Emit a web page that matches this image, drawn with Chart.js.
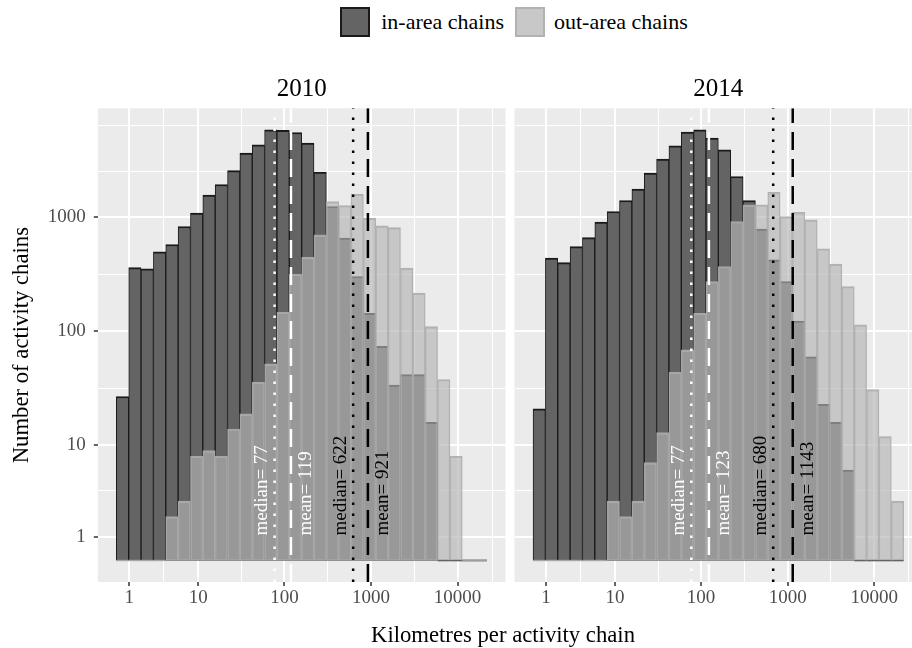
<!DOCTYPE html>
<html lang="en">
<head>
<meta charset="utf-8">
<title>Kilometres per activity chain</title>
<script src="https://cdn.jsdelivr.net/npm/chart.js@4.4.1/dist/chart.umd.min.js"></script>
<style>
  html, body { margin: 0; padding: 0; background: #ffffff; }
  body { width: 912px; height: 648px; overflow: hidden; position: relative;
         font-family: "Liberation Serif", "DejaVu Serif", serif; color: #000000; }
  canvas { position: absolute; top: 0; }
  #panel2010 { left: 0; }
  #panel2014 { left: 510px; }
  #legend { position: absolute; top: 7px; left: 0; width: 1028px; display: flex;
            justify-content: center; align-items: center; font-size: 22px; line-height: 30px; }
  .key { width: 26px; height: 26px; border: 2px solid; }
  .key.in { background: #646464; border-color: #1a1a1a; }
  .key.out { background: #c8c8c8; border-color: #b2b2b2; }
  .lab1 { margin: 0 11px 0 11px; }
  .lab2 { margin: 0 0 0 9px; }
  #xtitle { position: absolute; left: 0; width: 1006px; top: 621px; text-align: center;
            font-size: 22.7px; line-height: 28px; }
</style>
</head>
<body>
<div id="legend">
  <div class="key in"></div><span class="lab1">in-area chains</span>
  <div class="key out"></div><span class="lab2">out-area chains</span>
</div>
<canvas id="panel2010" width="510" height="648"></canvas>
<canvas id="panel2014" width="420" height="648"></canvas>
<div id="xtitle">Kilometres per activity chain</div>
<script>
// Histogram bins (mid-points, km) shared by both survey years
const binMidKm = [0.608, 1.341, 2.219, 3.340, 4.823, 6.833, 9.586, 13.38, 18.64, 25.93,
                  36.03, 50.07, 69.55, 96.62, 134.2, 186.4, 258.9, 359.6, 499.5, 693.8,
                  963.6, 1338, 1859, 2582, 3586, 4982, 6919, 9610, 13348, 18540];

// Counts of activity chains per bin
const inArea2010  = [27, 361, 352, 496, 574, 824, 1079, 1549, 1918, 2540, 3605, 4262, 5760, 5690, 5459,
                     4410, 2461, 1232, 652, 302, 144, 74, 34, 42, 42, 16, 0, 0, 0, 0];
const outArea2010 = [0, 0, 0, 0, 2, 3, 8, 9, 8, 14, 19, 36, 52, 147, 316,
                     445, 697, 1362, 1257, 1580, 975, 835, 807, 357, 216, 110, 38, 8, 0, 0];
const inArea2014  = [21, 437, 399, 551, 660, 901, 1114, 1390, 1748, 2412, 3198, 4178, 5497, 5760, 4876,
                     3856, 2253, 1390, 782, 422, 273, 123, 60, 23, 16, 6, 0, 0, 0, 0];
const outArea2014 = [0, 0, 0, 0, 0, 0, 3, 2, 3, 7, 13, 44, 69, 144, 273,
                     369, 912, 1275, 1275, 1638, 1007, 1097, 943, 527, 387, 247, 114, 31, 12, 3];

// Summary statistics (km)
const years      = ['2010', '2014'];
const medianIn   = [77, 77];
const meanIn     = [119, 123];
const medianOut  = [622, 680];
const meanOut    = [921, 1143];

// Axis breaks
const xTickValues = [1, 10, 100, 1000, 10000];
const yTickValues = [1, 10, 100, 1000];

const FONT = '"Liberation Serif", "DejaVu Serif", serif';

// pseudo-log transform (sigma = 1): asinh(x / 2)
const tf  = v => Math.asinh(v / 2);
const itf = t => 2 * Math.sinh(t);

class PseudoLogScale extends Chart.LinearScale {
  determineDataLimits() {
    this.min = this.options.min;
    this.max = this.options.max;
  }
  buildTicks() {
    const breaks = this.options.breaks;
    const t = breaks.map(tf);
    const t0 = tf(this.min), t1 = tf(this.max);
    // minor breaks: halfway between majors, extended one step past the ends
    const step = t[1] - t[0];
    const ext = t.slice();
    if (t0 < ext[0]) ext.unshift(ext[0] - step);
    if (t1 > ext[ext.length - 1]) ext.push(ext[ext.length - 1] + step);
    const minor = [];
    for (let i = 0; i < ext.length - 1; i++) {
      minor.push(ext[i], (ext[i] + ext[i + 1]) / 2);
    }
    minor.push(ext[ext.length - 1]);
    const ticks = breaks.map(v => ({ value: v, minor: false }));
    minor.forEach(m => {
      if (m > t0 && m < t1 && !t.some(x => Math.abs(x - m) < 1e-9)) {
        ticks.push({ value: itf(m), minor: true });
      }
    });
    ticks.sort((a, b) => a.value - b.value);
    return ticks;
  }
  configure() {
    super.configure();
    this._t0 = tf(this.min);
    this._tRange = tf(this.max) - this._t0;
  }
  getPixelForValue(value) {
    return this.getPixelForDecimal((tf(value) - this._t0) / this._tRange);
  }
  getValueForPixel(pixel) {
    return itf(this._t0 + this.getDecimalForPixel(pixel) * this._tRange);
  }
}
PseudoLogScale.id = 'pseudoLog';
Chart.register(PseudoLogScale);

// scale limits: bin extent (x) and [0, max count] (y), each expanded by 5%
const tMid = binMidKm.map(tf);
const halfBin = (tMid[tMid.length - 1] - tMid[0]) / (tMid.length - 1) / 2;
const tLo = tMid[0] - halfBin, tHi = tMid[tMid.length - 1] + halfBin;
const xPad = 0.05 * (tHi - tLo);
const xMin = itf(tLo - xPad), xMax = itf(tHi + xPad);
const tTop = tf(Math.max(...inArea2010, ...outArea2010, ...inArea2014, ...outArea2014));
const yMin = itf(-0.05 * tTop), yMax = itf(1.05 * tTop);

const tickLabel = (v, i, ticks) => (ticks[i].minor ? '' : String(v));

function panelDecor(k) {
  const refs = [
    { value: medianIn[k],  color: '#ffffff', dash: [2.5, 8.5], text: 'median= ', dx: -12.5 },
    { value: meanIn[k],    color: '#ffffff', dash: [18, 9],    text: 'mean= ',   dx: 15 },
    { value: medianOut[k], color: '#000000', dash: [2.5, 8.5], text: 'median= ', dx: -12.5 },
    { value: meanOut[k],   color: '#000000', dash: [18, 9],    text: 'mean= ',   dx: 15 }
  ];
  return {
    id: 'panelDecor',
    beforeDraw(chart) {
      const { ctx, chartArea: a } = chart;
      ctx.save();
      ctx.fillStyle = '#ebebeb';
      ctx.fillRect(a.left, a.top, a.right - a.left, a.bottom - a.top);
      ctx.restore();
    },
    afterDatasetDraw(chart, args) {
      // empty bins still show their outline along the baseline
      const ds = chart.data.datasets[args.index];
      const ctx = chart.ctx;
      ctx.save();
      ctx.strokeStyle = ds.borderColor;
      ctx.lineWidth = 1.5;
      args.meta.data.forEach((bar, i) => {
        if (ds.data[i] !== 0) return;
        const { x, width, base } = bar.getProps(['x', 'width', 'base'], true);
        ctx.beginPath();
        ctx.moveTo(x - width / 2, base);
        ctx.lineTo(x + width / 2, base);
        ctx.stroke();
      });
      ctx.restore();
    },
    afterDatasetsDraw(chart) {
      const { ctx, chartArea: a, scales: { x, y } } = chart;
      ctx.save();
      ctx.beginPath();
      ctx.rect(a.left, a.top, a.right - a.left, a.bottom - a.top);
      ctx.clip();
      refs.forEach(r => {
        const px = x.getPixelForValue(r.value);
        ctx.strokeStyle = r.color;
        ctx.lineWidth = 2.5;
        ctx.lineCap = 'butt';
        ctx.setLineDash(r.dash);
        ctx.beginPath();
        ctx.moveTo(px, a.bottom);
        ctx.lineTo(px, a.top);
        ctx.stroke();
      });
      ctx.setLineDash([]);
      ctx.font = '19px ' + FONT;
      ctx.textAlign = 'left';
      ctx.textBaseline = 'middle';
      const yStart = y.getPixelForValue(1) - 1;
      refs.forEach(r => {
        const px = x.getPixelForValue(r.value) + r.dx;
        ctx.save();
        ctx.translate(px, yStart);
        ctx.rotate(-Math.PI / 2);
        ctx.fillStyle = r.color;
        ctx.fillText(r.text + r.value, 0, 0);
        ctx.restore();
      });
      ctx.restore();
    }
  };
}

function makePanel(canvasId, k, inData, outData, first) {
  const barCommon = { borderSkipped: false, grouped: false, barPercentage: 1, categoryPercentage: 1 };
  return new Chart(document.getElementById(canvasId), {
    type: 'bar',
    data: {
      labels: binMidKm,
      datasets: [
        Object.assign({ label: 'in-area chains', data: inData, order: 1,
          backgroundColor: '#646464', borderColor: '#1a1a1a',
          borderWidth: { top: 2, left: 1, right: 1, bottom: 1 } }, barCommon),
        Object.assign({ label: 'out-area chains', data: outData, order: 0,
          backgroundColor: 'rgba(180,180,180,0.65)', borderColor: 'rgba(172,172,172,0.9)',
          borderWidth: { top: 1.5, left: 0.8, right: 0.8, bottom: 1 } }, barCommon)
      ]
    },
    options: {
      responsive: false,
      devicePixelRatio: 1,
      animation: false,
      events: [],
      layout: { padding: first ? { left: 0, right: 4.5, top: 0, bottom: 0 }
                                : { left: 4.5, right: 7.8, top: 0, bottom: 0 } },
      plugins: {
        legend: { display: false },
        tooltip: { enabled: false },
        title: {
          display: true, text: years[k], fullSize: false, color: '#000000',
          font: { family: FONT, size: 25, weight: 'normal' },
          padding: { top: 74.4, bottom: 3.9 }
        }
      },
      scales: {
        x: {
          type: 'pseudoLog', min: xMin, max: xMax, breaks: xTickValues,
          offset: false,
          border: { display: false },
          grid: {
            offset: false, color: '#ffffff',
            lineWidth: c => (c.tick && c.tick.minor ? 1 : 2),
            tickLength: 4, tickWidth: 1.5,
            tickColor: c => (c.tick && c.tick.minor ? 'rgba(0,0,0,0)' : '#333333')
          },
          ticks: { autoSkip: false, maxRotation: 0, padding: 1, color: '#4d4d4d',
                   font: { family: FONT, size: 19 }, callback: tickLabel },
          afterFit: s => { s.height = 66; }
        },
        y: {
          type: 'pseudoLog', min: yMin, max: yMax, breaks: yTickValues,
          border: { display: false },
          grid: {
            color: '#ffffff',
            lineWidth: c => (c.tick && c.tick.minor ? 1 : 2),
            drawTicks: first, tickLength: 4, tickWidth: 1.5,
            tickColor: c => (c.tick && c.tick.minor ? 'rgba(0,0,0,0)' : '#333333')
          },
          ticks: { display: first, autoSkip: false, padding: 8, color: '#4d4d4d',
                   font: { family: FONT, size: 19 }, callback: tickLabel },
          title: { display: first, text: 'Number of activity chains', color: '#000000',
                   font: { family: FONT, size: 22.7 }, padding: { top: 8.6, bottom: 0 } },
          afterFit: s => { s.width = first ? 97.8 : 0; }
        }
      }
    },
    plugins: [panelDecor(k)]
  });
}

makePanel('panel2010', 0, inArea2010, outArea2010, true);
makePanel('panel2014', 1, inArea2014, outArea2014, false);
</script>
</body>
</html>
